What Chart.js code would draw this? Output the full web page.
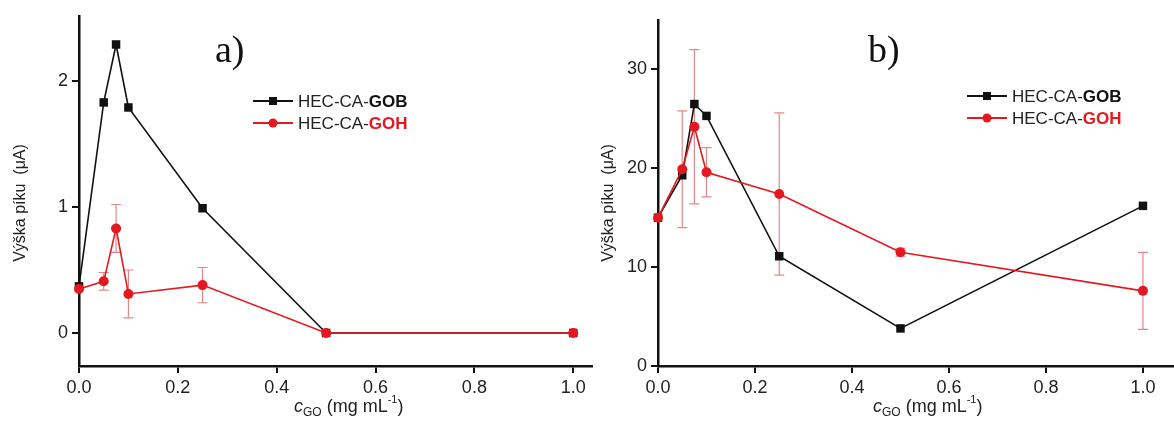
<!DOCTYPE html>
<html>
<head>
<meta charset="utf-8">
<script src="https://cdn.jsdelivr.net/npm/chart.js@4.4.1/dist/chart.umd.min.js"></script>
<style>
  html, body { margin: 0; padding: 0; background: #fff; }
  #wrap { position: relative; width: 1174px; height: 423px; overflow: hidden; }
  .box { position: absolute; top: 0; }
</style>
</head>
<body>
<div id="wrap">
  <div class="box" style="left:0px"><canvas id="chartA" width="600" height="423"></canvas></div>
  <div class="box" style="left:580px"><canvas id="chartB" width="594" height="423"></canvas></div>
</div>
<script>
// concentrations of GO (mg/mL)
const conc = [0, 0.05, 0.075, 0.1, 0.25, 0.5, 1.0];

// a) peak height (uA)
const gobA = [0.37, 1.83, 2.29, 1.79, 0.99, 0, 0];
const gohA = [0.35, 0.41, 0.83, 0.31, 0.38, 0, 0];
const gohErrA = [0, 0.07, 0.19, 0.19, 0.14, 0, 0];

// b) peak height (uA)
const gobB = [15.0, 19.3, 26.5, 25.3, 11.1, 3.8, 16.2];
const gohB = [15.0, 19.9, 24.2, 19.6, 17.4, 11.5, 7.6];
const gohErrB = [0, 5.9, 7.8, 2.5, 8.2, 0.4, 3.9];

const xTicks = [0, 0.2, 0.4, 0.6, 0.8, 1.0];
const yTicksA = [0, 1, 2];
const yTicksB = [0, 10, 20, 30];

const BLACK = "#111111";
const RED = "#e3191f";
const ERR = "rgba(200,40,40,0.55)";
const SANS = "'Liberation Sans', Arial, sans-serif";

const pts = (ys) => conc.map((x, i) => ({ x: x, y: ys[i] }));

// error bars for the red series
const errorBars = {
  id: "errorBars",
  beforeDatasetsDraw(chart, args, opts) {
    const ctx = chart.ctx;
    const xs = chart.scales.x, ys = chart.scales.y;
    ctx.save();
    ctx.strokeStyle = ERR;
    ctx.lineWidth = 1.2;
    opts.err.forEach((e, i) => {
      if (!e) return;
      const px = xs.getPixelForValue(conc[i]);
      const top = ys.getPixelForValue(opts.vals[i] + e);
      const bot = ys.getPixelForValue(opts.vals[i] - e);
      ctx.beginPath();
      ctx.moveTo(px, top); ctx.lineTo(px, bot);
      ctx.moveTo(px - 5, top); ctx.lineTo(px + 5, top);
      ctx.moveTo(px - 5, bot); ctx.lineTo(px + 5, bot);
      ctx.stroke();
    });
    ctx.restore();
  }
};

// panel letter, legend, axis titles
const extras = {
  id: "extras",
  afterDraw(chart, args, opts) {
    const ctx = chart.ctx;
    const area = chart.chartArea;
    ctx.save();
    ctx.fillStyle = "#111";
    ctx.textBaseline = "alphabetic";
    ctx.font = "38px 'Liberation Serif', serif";
    ctx.fillText(opts.letter, opts.letterX, 62);

    // legend
    const rows = [
      { color: BLACK, tag: "GOB", shape: "rect", y: opts.legY },
      { color: RED, tag: "GOH", shape: "circle", y: opts.legY + 22 }
    ];
    rows.forEach((r) => {
      ctx.strokeStyle = r.color;
      ctx.lineWidth = 2;
      ctx.beginPath();
      ctx.moveTo(opts.legX, r.y); ctx.lineTo(opts.legX + 40, r.y);
      ctx.stroke();
      ctx.fillStyle = r.color;
      if (r.shape === "rect") {
        ctx.fillRect(opts.legX + 16, r.y - 4, 8, 8);
      } else {
        ctx.beginPath(); ctx.arc(opts.legX + 20, r.y, 4.5, 0, Math.PI * 2); ctx.fill();
      }
      ctx.font = "17px " + SANS;
      ctx.fillStyle = "#222";
      const tx = opts.legX + 45;
      ctx.fillText("HEC-CA-", tx, r.y + 6);
      const w = ctx.measureText("HEC-CA-").width;
      ctx.font = "bold 17px " + SANS;
      ctx.fillStyle = r.color;
      ctx.fillText(r.tag, tx + w, r.y + 6);
    });

    // y title
    ctx.save();
    ctx.translate(opts.yTitleX, 203);
    ctx.rotate(-Math.PI / 2);
    ctx.textAlign = "center";
    ctx.textBaseline = "middle";
    ctx.fillStyle = "#222";
    ctx.font = "16px " + SANS;
    ctx.fillText("Výška píku  (μA)", 0, 0);
    ctx.restore();

    // x title: c_GO (mg mL^-1)
    let x = area.left + 215;
    const base = 412;
    ctx.fillStyle = "#222";
    ctx.font = "italic 18px " + SANS;
    ctx.fillText("c", x, base); x += ctx.measureText("c").width;
    ctx.font = "12px " + SANS;
    ctx.fillText("GO", x, base + 4); x += ctx.measureText("GO").width;
    ctx.font = "18px " + SANS;
    ctx.fillText(" (mg mL", x, base); x += ctx.measureText(" (mg mL").width;
    ctx.font = "11px " + SANS;
    ctx.fillText("-1", x, base - 9); x += ctx.measureText("-1").width;
    ctx.font = "18px " + SANS;
    ctx.fillText(")", x, base);
    ctx.restore();
  }
};

function makeConfig(gob, goh, err, yMin, yMax, yTicks, xMax, pad, yWidth, extra) {
  return {
    type: "scatter",
    data: {
      datasets: [
        {
          label: "HEC-CA-GOH",
          data: pts(goh),
          showLine: true,
          borderColor: RED,
          backgroundColor: RED,
          borderWidth: 1.6,
          pointStyle: "circle",
          pointRadius: 5,
          pointBorderWidth: 0,
          clip: false,
          order: 0
        },
        {
          label: "HEC-CA-GOB",
          data: pts(gob),
          showLine: true,
          borderColor: BLACK,
          backgroundColor: BLACK,
          borderWidth: 1.6,
          pointStyle: "rect",
          pointRadius: 6,
          pointBorderWidth: 0,
          clip: false,
          order: 1
        }
      ]
    },
    options: {
      responsive: false,
      animation: false,
      layout: { padding: pad, autoPadding: false },
      plugins: {
        legend: { display: false },
        tooltip: { enabled: false },
        errorBars: { err: err, vals: goh },
        extras: extra
      },
      scales: {
        x: {
          type: "linear",
          min: 0,
          max: xMax,
          afterBuildTicks: (s) => { s.ticks = xTicks.map((v) => ({ value: v })); },
          afterFit: (s) => { s.height = 57; s.paddingLeft = 0; s.paddingRight = 0; },
          border: { display: true, color: "#111", width: 2.5 },
          grid: { drawOnChartArea: false, drawTicks: true, tickLength: 7, color: "#111", lineWidth: 2 },
          ticks: {
            color: "#222",
            padding: 4,
            font: { family: SANS, size: 18 },
            callback: (v) => v.toFixed(1)
          }
        },
        y: {
          min: yMin,
          max: yMax,
          afterBuildTicks: (s) => { s.ticks = yTicks.map((v) => ({ value: v })); },
          afterFit: (s) => { s.width = yWidth; s.paddingTop = 0; s.paddingBottom = 0; },
          border: { display: true, color: "#111", width: 2.5 },
          grid: { drawOnChartArea: false, drawTicks: true, tickLength: 7, color: "#111", lineWidth: 2 },
          ticks: {
            color: "#222",
            padding: 4,
            font: { family: SANS, size: 18 }
          }
        }
      }
    },
    plugins: [errorBars, extras]
  };
}

new Chart(document.getElementById("chartA"),
  makeConfig(gobA, gohA, gohErrA, -0.262, 2.516, yTicksA, 1.038,
    { top: 16, left: 0, right: 8, bottom: 0 }, 79,
    { letter: "a)", letterX: 215, legX: 253, legY: 101, yTitleX: 21 }));

new Chart(document.getElementById("chartB"),
  makeConfig(gobB, gohB, gohErrB, 0, 35, yTicksB, 1.064,
    { top: 20, left: 0, right: 0, bottom: 0 }, 78,
    { letter: "b)", letterX: 288, legX: 387, legY: 96, yTitleX: 29 }));
</script>
</body>
</html>
